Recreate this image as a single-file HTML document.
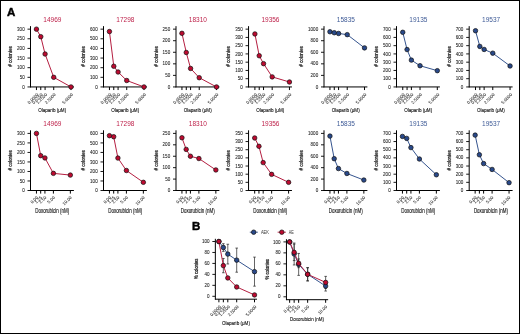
<!DOCTYPE html>
<html><head><meta charset="utf-8"><style>
html,body{margin:0;padding:0;background:#fff;}
body{width:520px;height:334px;overflow:hidden;}
.fr{position:absolute;left:0;top:0;width:518px;height:332px;border:1px solid #000;}
svg{position:absolute;left:0;top:0;will-change:transform;}
text{font-family:"Liberation Sans", sans-serif;}
.t{fill:#222;stroke:#222;stroke-width:0.06px;}
.r{fill:#262626;stroke:#262626;stroke-width:0.04px;}
.h{fill:#151515;stroke:#151515;stroke-width:0.14px;}
.v{fill:#111;stroke:#111;stroke-width:0.22px;}
</style></head><body>
<div class="fr"></div>
<svg width="520" height="334" viewBox="0 0 520 334">
<text x="52.4" y="21.9" font-size="6.5" fill="#bd1f48" text-anchor="middle">14969</text>
<line x1="30.5" y1="26.15" x2="30.5" y2="87.35" stroke="#000" stroke-width="1"/>
<line x1="27.5" y1="86.95" x2="30.5" y2="86.95" stroke="#000" stroke-width="0.9"/>
<text x="24.7" y="88.55" font-size="4.55" class="t" text-anchor="end">0</text>
<line x1="27.5" y1="77.32" x2="30.5" y2="77.32" stroke="#000" stroke-width="0.9"/>
<text x="24.7" y="78.92" font-size="4.55" class="t" text-anchor="end">50</text>
<line x1="27.5" y1="67.68" x2="30.5" y2="67.68" stroke="#000" stroke-width="0.9"/>
<text x="24.7" y="69.28" font-size="4.55" class="t" text-anchor="end">100</text>
<line x1="27.5" y1="58.05" x2="30.5" y2="58.05" stroke="#000" stroke-width="0.9"/>
<text x="24.7" y="59.65" font-size="4.55" class="t" text-anchor="end">150</text>
<line x1="27.5" y1="48.42" x2="30.5" y2="48.42" stroke="#000" stroke-width="0.9"/>
<text x="24.7" y="50.02" font-size="4.55" class="t" text-anchor="end">200</text>
<line x1="27.5" y1="38.78" x2="30.5" y2="38.78" stroke="#000" stroke-width="0.9"/>
<text x="24.7" y="40.38" font-size="4.55" class="t" text-anchor="end">250</text>
<line x1="27.5" y1="29.15" x2="30.5" y2="29.15" stroke="#000" stroke-width="0.9"/>
<text x="24.7" y="30.75" font-size="4.55" class="t" text-anchor="end">300</text>
<line x1="30.1" y1="86.95" x2="73.9" y2="86.95" stroke="#000" stroke-width="1"/>
<line x1="36.45" y1="86.95" x2="36.45" y2="90.05" stroke="#000" stroke-width="1.0"/>
<text transform="translate(38.75,94.85) rotate(-45)" font-size="4.35" class="r" text-anchor="end">0.0000</text>
<line x1="40.77" y1="86.95" x2="40.77" y2="90.05" stroke="#000" stroke-width="1.0"/>
<text transform="translate(43.07,94.85) rotate(-45)" font-size="4.35" class="r" text-anchor="end">0.6250</text>
<line x1="45.09" y1="86.95" x2="45.09" y2="90.05" stroke="#000" stroke-width="1.0"/>
<text transform="translate(47.39,94.85) rotate(-45)" font-size="4.35" class="r" text-anchor="end">1.2500</text>
<line x1="53.73" y1="86.95" x2="53.73" y2="90.05" stroke="#000" stroke-width="1.0"/>
<text transform="translate(56.02,94.85) rotate(-45)" font-size="4.35" class="r" text-anchor="end">2.5000</text>
<line x1="71" y1="86.95" x2="71" y2="90.05" stroke="#000" stroke-width="1.0"/>
<text transform="translate(73.3,94.85) rotate(-45)" font-size="4.35" class="r" text-anchor="end">5.0000</text>
<text transform="translate(12.1,56.55) rotate(-90)" font-size="5.6" class="v" text-anchor="middle" textLength="20.4" lengthAdjust="spacingAndGlyphs"><tspan font-weight="bold">#</tspan>&#160;colonies</text>
<text x="52.2" y="112.45" font-size="5.95" class="h" text-anchor="middle" textLength="28.0" lengthAdjust="spacingAndGlyphs">Olaparib (&#956;M)</text>
<polyline points="36.45,29.15 40.77,36.66 45.09,54 53.73,77.32 71,86.95" fill="none" stroke="#b41e40" stroke-width="1.0"/>
<circle cx="36.45" cy="29.15" r="2.25" fill="#bd0a30" stroke="#111" stroke-width="0.7"/>
<circle cx="40.77" cy="36.66" r="2.25" fill="#bd0a30" stroke="#111" stroke-width="0.7"/>
<circle cx="45.09" cy="54" r="2.25" fill="#bd0a30" stroke="#111" stroke-width="0.7"/>
<circle cx="53.73" cy="77.32" r="2.25" fill="#bd0a30" stroke="#111" stroke-width="0.7"/>
<circle cx="71" cy="86.95" r="2.25" fill="#bd0a30" stroke="#111" stroke-width="0.7"/>
<text x="125.4" y="21.9" font-size="6.5" fill="#bd1f48" text-anchor="middle">17298</text>
<line x1="103.5" y1="26.15" x2="103.5" y2="87.35" stroke="#000" stroke-width="1"/>
<line x1="100.5" y1="86.95" x2="103.5" y2="86.95" stroke="#000" stroke-width="0.9"/>
<text x="97.7" y="88.55" font-size="4.55" class="t" text-anchor="end">0</text>
<line x1="100.5" y1="77.32" x2="103.5" y2="77.32" stroke="#000" stroke-width="0.9"/>
<text x="97.7" y="78.92" font-size="4.55" class="t" text-anchor="end">100</text>
<line x1="100.5" y1="67.68" x2="103.5" y2="67.68" stroke="#000" stroke-width="0.9"/>
<text x="97.7" y="69.28" font-size="4.55" class="t" text-anchor="end">200</text>
<line x1="100.5" y1="58.05" x2="103.5" y2="58.05" stroke="#000" stroke-width="0.9"/>
<text x="97.7" y="59.65" font-size="4.55" class="t" text-anchor="end">300</text>
<line x1="100.5" y1="48.42" x2="103.5" y2="48.42" stroke="#000" stroke-width="0.9"/>
<text x="97.7" y="50.02" font-size="4.55" class="t" text-anchor="end">400</text>
<line x1="100.5" y1="38.78" x2="103.5" y2="38.78" stroke="#000" stroke-width="0.9"/>
<text x="97.7" y="40.38" font-size="4.55" class="t" text-anchor="end">500</text>
<line x1="100.5" y1="29.15" x2="103.5" y2="29.15" stroke="#000" stroke-width="0.9"/>
<text x="97.7" y="30.75" font-size="4.55" class="t" text-anchor="end">600</text>
<line x1="103.1" y1="86.95" x2="146.9" y2="86.95" stroke="#000" stroke-width="1"/>
<line x1="109.45" y1="86.95" x2="109.45" y2="90.05" stroke="#000" stroke-width="1.0"/>
<text transform="translate(111.75,94.85) rotate(-45)" font-size="4.35" class="r" text-anchor="end">0.0000</text>
<line x1="113.77" y1="86.95" x2="113.77" y2="90.05" stroke="#000" stroke-width="1.0"/>
<text transform="translate(116.07,94.85) rotate(-45)" font-size="4.35" class="r" text-anchor="end">0.6250</text>
<line x1="118.09" y1="86.95" x2="118.09" y2="90.05" stroke="#000" stroke-width="1.0"/>
<text transform="translate(120.39,94.85) rotate(-45)" font-size="4.35" class="r" text-anchor="end">1.2500</text>
<line x1="126.72" y1="86.95" x2="126.72" y2="90.05" stroke="#000" stroke-width="1.0"/>
<text transform="translate(129.03,94.85) rotate(-45)" font-size="4.35" class="r" text-anchor="end">2.5000</text>
<line x1="144" y1="86.95" x2="144" y2="90.05" stroke="#000" stroke-width="1.0"/>
<text transform="translate(146.3,94.85) rotate(-45)" font-size="4.35" class="r" text-anchor="end">5.0000</text>
<text transform="translate(85.1,56.55) rotate(-90)" font-size="5.6" class="v" text-anchor="middle" textLength="20.4" lengthAdjust="spacingAndGlyphs"><tspan font-weight="bold">#</tspan>&#160;colonies</text>
<text x="125.2" y="112.45" font-size="5.95" class="h" text-anchor="middle" textLength="28.0" lengthAdjust="spacingAndGlyphs">Olaparib (&#956;M)</text>
<polyline points="109.45,31.56 113.77,66.24 118.09,72.02 126.72,80.5 144,86.95" fill="none" stroke="#b41e40" stroke-width="1.0"/>
<circle cx="109.45" cy="31.56" r="2.25" fill="#bd0a30" stroke="#111" stroke-width="0.7"/>
<circle cx="113.77" cy="66.24" r="2.25" fill="#bd0a30" stroke="#111" stroke-width="0.7"/>
<circle cx="118.09" cy="72.02" r="2.25" fill="#bd0a30" stroke="#111" stroke-width="0.7"/>
<circle cx="126.72" cy="80.5" r="2.25" fill="#bd0a30" stroke="#111" stroke-width="0.7"/>
<circle cx="144" cy="86.95" r="2.25" fill="#bd0a30" stroke="#111" stroke-width="0.7"/>
<text x="197.9" y="21.9" font-size="6.5" fill="#bd1f48" text-anchor="middle">18310</text>
<line x1="176" y1="26.15" x2="176" y2="87.35" stroke="#000" stroke-width="1"/>
<line x1="173" y1="86.95" x2="176" y2="86.95" stroke="#000" stroke-width="0.9"/>
<text x="170.2" y="88.55" font-size="4.55" class="t" text-anchor="end">0</text>
<line x1="173" y1="75.39" x2="176" y2="75.39" stroke="#000" stroke-width="0.9"/>
<text x="170.2" y="76.99" font-size="4.55" class="t" text-anchor="end">50</text>
<line x1="173" y1="63.83" x2="176" y2="63.83" stroke="#000" stroke-width="0.9"/>
<text x="170.2" y="65.43" font-size="4.55" class="t" text-anchor="end">100</text>
<line x1="173" y1="52.27" x2="176" y2="52.27" stroke="#000" stroke-width="0.9"/>
<text x="170.2" y="53.87" font-size="4.55" class="t" text-anchor="end">150</text>
<line x1="173" y1="40.71" x2="176" y2="40.71" stroke="#000" stroke-width="0.9"/>
<text x="170.2" y="42.31" font-size="4.55" class="t" text-anchor="end">200</text>
<line x1="173" y1="29.15" x2="176" y2="29.15" stroke="#000" stroke-width="0.9"/>
<text x="170.2" y="30.75" font-size="4.55" class="t" text-anchor="end">250</text>
<line x1="175.6" y1="86.95" x2="219.4" y2="86.95" stroke="#000" stroke-width="1"/>
<line x1="181.95" y1="86.95" x2="181.95" y2="90.05" stroke="#000" stroke-width="1.0"/>
<text transform="translate(184.25,94.85) rotate(-45)" font-size="4.35" class="r" text-anchor="end">0.0000</text>
<line x1="186.27" y1="86.95" x2="186.27" y2="90.05" stroke="#000" stroke-width="1.0"/>
<text transform="translate(188.57,94.85) rotate(-45)" font-size="4.35" class="r" text-anchor="end">0.6250</text>
<line x1="190.59" y1="86.95" x2="190.59" y2="90.05" stroke="#000" stroke-width="1.0"/>
<text transform="translate(192.89,94.85) rotate(-45)" font-size="4.35" class="r" text-anchor="end">1.2500</text>
<line x1="199.22" y1="86.95" x2="199.22" y2="90.05" stroke="#000" stroke-width="1.0"/>
<text transform="translate(201.53,94.85) rotate(-45)" font-size="4.35" class="r" text-anchor="end">2.5000</text>
<line x1="216.5" y1="86.95" x2="216.5" y2="90.05" stroke="#000" stroke-width="1.0"/>
<text transform="translate(218.8,94.85) rotate(-45)" font-size="4.35" class="r" text-anchor="end">5.0000</text>
<text transform="translate(157.6,56.55) rotate(-90)" font-size="5.6" class="v" text-anchor="middle" textLength="20.4" lengthAdjust="spacingAndGlyphs"><tspan font-weight="bold">#</tspan>&#160;colonies</text>
<text x="197.7" y="112.45" font-size="5.95" class="h" text-anchor="middle" textLength="28.0" lengthAdjust="spacingAndGlyphs">Olaparib (&#956;M)</text>
<polyline points="181.95,33.31 186.27,52.5 190.59,68.45 199.22,77.7 216.5,86.95" fill="none" stroke="#b41e40" stroke-width="1.0"/>
<circle cx="181.95" cy="33.31" r="2.25" fill="#bd0a30" stroke="#111" stroke-width="0.7"/>
<circle cx="186.27" cy="52.5" r="2.25" fill="#bd0a30" stroke="#111" stroke-width="0.7"/>
<circle cx="190.59" cy="68.45" r="2.25" fill="#bd0a30" stroke="#111" stroke-width="0.7"/>
<circle cx="199.22" cy="77.7" r="2.25" fill="#bd0a30" stroke="#111" stroke-width="0.7"/>
<circle cx="216.5" cy="86.95" r="2.25" fill="#bd0a30" stroke="#111" stroke-width="0.7"/>
<text x="270.45" y="21.9" font-size="6.5" fill="#bd1f48" text-anchor="middle">19356</text>
<line x1="248.55" y1="26.15" x2="248.55" y2="87.35" stroke="#000" stroke-width="1"/>
<line x1="245.55" y1="86.95" x2="248.55" y2="86.95" stroke="#000" stroke-width="0.9"/>
<text x="242.75" y="88.55" font-size="4.55" class="t" text-anchor="end">0</text>
<line x1="245.55" y1="78.69" x2="248.55" y2="78.69" stroke="#000" stroke-width="0.9"/>
<text x="242.75" y="80.29" font-size="4.55" class="t" text-anchor="end">50</text>
<line x1="245.55" y1="70.44" x2="248.55" y2="70.44" stroke="#000" stroke-width="0.9"/>
<text x="242.75" y="72.04" font-size="4.55" class="t" text-anchor="end">100</text>
<line x1="245.55" y1="62.18" x2="248.55" y2="62.18" stroke="#000" stroke-width="0.9"/>
<text x="242.75" y="63.78" font-size="4.55" class="t" text-anchor="end">150</text>
<line x1="245.55" y1="53.92" x2="248.55" y2="53.92" stroke="#000" stroke-width="0.9"/>
<text x="242.75" y="55.52" font-size="4.55" class="t" text-anchor="end">200</text>
<line x1="245.55" y1="45.66" x2="248.55" y2="45.66" stroke="#000" stroke-width="0.9"/>
<text x="242.75" y="47.26" font-size="4.55" class="t" text-anchor="end">250</text>
<line x1="245.55" y1="37.41" x2="248.55" y2="37.41" stroke="#000" stroke-width="0.9"/>
<text x="242.75" y="39.01" font-size="4.55" class="t" text-anchor="end">300</text>
<line x1="245.55" y1="29.15" x2="248.55" y2="29.15" stroke="#000" stroke-width="0.9"/>
<text x="242.75" y="30.75" font-size="4.55" class="t" text-anchor="end">350</text>
<line x1="248.15" y1="86.95" x2="291.95" y2="86.95" stroke="#000" stroke-width="1"/>
<line x1="254.9" y1="86.95" x2="254.9" y2="90.05" stroke="#000" stroke-width="1.0"/>
<text transform="translate(257.2,94.85) rotate(-45)" font-size="4.35" class="r" text-anchor="end">0.0000</text>
<line x1="259.22" y1="86.95" x2="259.22" y2="90.05" stroke="#000" stroke-width="1.0"/>
<text transform="translate(261.52,94.85) rotate(-45)" font-size="4.35" class="r" text-anchor="end">0.6250</text>
<line x1="263.54" y1="86.95" x2="263.54" y2="90.05" stroke="#000" stroke-width="1.0"/>
<text transform="translate(265.84,94.85) rotate(-45)" font-size="4.35" class="r" text-anchor="end">1.2500</text>
<line x1="272.18" y1="86.95" x2="272.18" y2="90.05" stroke="#000" stroke-width="1.0"/>
<text transform="translate(274.48,94.85) rotate(-45)" font-size="4.35" class="r" text-anchor="end">2.5000</text>
<line x1="289.45" y1="86.95" x2="289.45" y2="90.05" stroke="#000" stroke-width="1.0"/>
<text transform="translate(291.75,94.85) rotate(-45)" font-size="4.35" class="r" text-anchor="end">5.0000</text>
<text transform="translate(230.15,56.55) rotate(-90)" font-size="5.6" class="v" text-anchor="middle" textLength="20.4" lengthAdjust="spacingAndGlyphs"><tspan font-weight="bold">#</tspan>&#160;colonies</text>
<text x="270.25" y="112.45" font-size="5.95" class="h" text-anchor="middle" textLength="28.0" lengthAdjust="spacingAndGlyphs">Olaparib (&#956;M)</text>
<polyline points="254.9,33.94 259.22,55.74 263.54,63.66 272.18,76.88 289.45,82" fill="none" stroke="#b41e40" stroke-width="1.0"/>
<circle cx="254.9" cy="33.94" r="2.25" fill="#bd0a30" stroke="#111" stroke-width="0.7"/>
<circle cx="259.22" cy="55.74" r="2.25" fill="#bd0a30" stroke="#111" stroke-width="0.7"/>
<circle cx="263.54" cy="63.66" r="2.25" fill="#bd0a30" stroke="#111" stroke-width="0.7"/>
<circle cx="272.18" cy="76.88" r="2.25" fill="#bd0a30" stroke="#111" stroke-width="0.7"/>
<circle cx="289.45" cy="82" r="2.25" fill="#bd0a30" stroke="#111" stroke-width="0.7"/>
<text x="345.9" y="21.9" font-size="6.5" fill="#3e5a96" text-anchor="middle">15835</text>
<line x1="324" y1="26.15" x2="324" y2="87.35" stroke="#000" stroke-width="1"/>
<line x1="321" y1="86.95" x2="324" y2="86.95" stroke="#000" stroke-width="0.9"/>
<text x="318.2" y="88.55" font-size="4.55" class="t" text-anchor="end">0</text>
<line x1="321" y1="75.39" x2="324" y2="75.39" stroke="#000" stroke-width="0.9"/>
<text x="318.2" y="76.99" font-size="4.55" class="t" text-anchor="end">200</text>
<line x1="321" y1="63.83" x2="324" y2="63.83" stroke="#000" stroke-width="0.9"/>
<text x="318.2" y="65.43" font-size="4.55" class="t" text-anchor="end">400</text>
<line x1="321" y1="52.27" x2="324" y2="52.27" stroke="#000" stroke-width="0.9"/>
<text x="318.2" y="53.87" font-size="4.55" class="t" text-anchor="end">600</text>
<line x1="321" y1="40.71" x2="324" y2="40.71" stroke="#000" stroke-width="0.9"/>
<text x="318.2" y="42.31" font-size="4.55" class="t" text-anchor="end">800</text>
<line x1="321" y1="29.15" x2="324" y2="29.15" stroke="#000" stroke-width="0.9"/>
<text x="318.2" y="30.75" font-size="4.55" class="t" text-anchor="end">1000</text>
<line x1="323.6" y1="86.95" x2="367.4" y2="86.95" stroke="#000" stroke-width="1"/>
<line x1="329.95" y1="86.95" x2="329.95" y2="90.05" stroke="#000" stroke-width="1.0"/>
<text transform="translate(332.25,94.85) rotate(-45)" font-size="4.35" class="r" text-anchor="end">0.0000</text>
<line x1="334.27" y1="86.95" x2="334.27" y2="90.05" stroke="#000" stroke-width="1.0"/>
<text transform="translate(336.57,94.85) rotate(-45)" font-size="4.35" class="r" text-anchor="end">0.6250</text>
<line x1="338.59" y1="86.95" x2="338.59" y2="90.05" stroke="#000" stroke-width="1.0"/>
<text transform="translate(340.89,94.85) rotate(-45)" font-size="4.35" class="r" text-anchor="end">1.2500</text>
<line x1="347.22" y1="86.95" x2="347.22" y2="90.05" stroke="#000" stroke-width="1.0"/>
<text transform="translate(349.52,94.85) rotate(-45)" font-size="4.35" class="r" text-anchor="end">2.5000</text>
<line x1="364.5" y1="86.95" x2="364.5" y2="90.05" stroke="#000" stroke-width="1.0"/>
<text transform="translate(366.8,94.85) rotate(-45)" font-size="4.35" class="r" text-anchor="end">5.0000</text>
<text transform="translate(303.2,56.55) rotate(-90)" font-size="5.6" class="v" text-anchor="middle" textLength="20.4" lengthAdjust="spacingAndGlyphs"><tspan font-weight="bold">#</tspan>&#160;colonies</text>
<text x="345.7" y="112.45" font-size="5.95" class="h" text-anchor="middle" textLength="28.0" lengthAdjust="spacingAndGlyphs">Olaparib (&#956;M)</text>
<polyline points="329.95,31.75 334.27,32.73 338.59,33.48 347.22,34.64 364.5,47.88" fill="none" stroke="#35548e" stroke-width="1.0"/>
<circle cx="329.95" cy="31.75" r="2.25" fill="#29498a" stroke="#111" stroke-width="0.7"/>
<circle cx="334.27" cy="32.73" r="2.25" fill="#29498a" stroke="#111" stroke-width="0.7"/>
<circle cx="338.59" cy="33.48" r="2.25" fill="#29498a" stroke="#111" stroke-width="0.7"/>
<circle cx="347.22" cy="34.64" r="2.25" fill="#29498a" stroke="#111" stroke-width="0.7"/>
<circle cx="364.5" cy="47.88" r="2.25" fill="#29498a" stroke="#111" stroke-width="0.7"/>
<text x="418.4" y="21.9" font-size="6.5" fill="#3e5a96" text-anchor="middle">19135</text>
<line x1="396.5" y1="26.15" x2="396.5" y2="87.35" stroke="#000" stroke-width="1"/>
<line x1="393.5" y1="86.95" x2="396.5" y2="86.95" stroke="#000" stroke-width="0.9"/>
<text x="390.7" y="88.55" font-size="4.55" class="t" text-anchor="end">0</text>
<line x1="393.5" y1="78.69" x2="396.5" y2="78.69" stroke="#000" stroke-width="0.9"/>
<text x="390.7" y="80.29" font-size="4.55" class="t" text-anchor="end">100</text>
<line x1="393.5" y1="70.44" x2="396.5" y2="70.44" stroke="#000" stroke-width="0.9"/>
<text x="390.7" y="72.04" font-size="4.55" class="t" text-anchor="end">200</text>
<line x1="393.5" y1="62.18" x2="396.5" y2="62.18" stroke="#000" stroke-width="0.9"/>
<text x="390.7" y="63.78" font-size="4.55" class="t" text-anchor="end">300</text>
<line x1="393.5" y1="53.92" x2="396.5" y2="53.92" stroke="#000" stroke-width="0.9"/>
<text x="390.7" y="55.52" font-size="4.55" class="t" text-anchor="end">400</text>
<line x1="393.5" y1="45.66" x2="396.5" y2="45.66" stroke="#000" stroke-width="0.9"/>
<text x="390.7" y="47.26" font-size="4.55" class="t" text-anchor="end">500</text>
<line x1="393.5" y1="37.41" x2="396.5" y2="37.41" stroke="#000" stroke-width="0.9"/>
<text x="390.7" y="39.01" font-size="4.55" class="t" text-anchor="end">600</text>
<line x1="393.5" y1="29.15" x2="396.5" y2="29.15" stroke="#000" stroke-width="0.9"/>
<text x="390.7" y="30.75" font-size="4.55" class="t" text-anchor="end">700</text>
<line x1="396.1" y1="86.95" x2="439.9" y2="86.95" stroke="#000" stroke-width="1"/>
<line x1="402.75" y1="86.95" x2="402.75" y2="90.05" stroke="#000" stroke-width="1.0"/>
<text transform="translate(405.05,94.85) rotate(-45)" font-size="4.35" class="r" text-anchor="end">0.0000</text>
<line x1="407.07" y1="86.95" x2="407.07" y2="90.05" stroke="#000" stroke-width="1.0"/>
<text transform="translate(409.37,94.85) rotate(-45)" font-size="4.35" class="r" text-anchor="end">0.6250</text>
<line x1="411.39" y1="86.95" x2="411.39" y2="90.05" stroke="#000" stroke-width="1.0"/>
<text transform="translate(413.69,94.85) rotate(-45)" font-size="4.35" class="r" text-anchor="end">1.2500</text>
<line x1="420.02" y1="86.95" x2="420.02" y2="90.05" stroke="#000" stroke-width="1.0"/>
<text transform="translate(422.32,94.85) rotate(-45)" font-size="4.35" class="r" text-anchor="end">2.5000</text>
<line x1="437.3" y1="86.95" x2="437.3" y2="90.05" stroke="#000" stroke-width="1.0"/>
<text transform="translate(439.6,94.85) rotate(-45)" font-size="4.35" class="r" text-anchor="end">5.0000</text>
<text transform="translate(378.1,56.55) rotate(-90)" font-size="5.6" class="v" text-anchor="middle" textLength="20.4" lengthAdjust="spacingAndGlyphs"><tspan font-weight="bold">#</tspan>&#160;colonies</text>
<text x="418.2" y="112.45" font-size="5.95" class="h" text-anchor="middle" textLength="28.0" lengthAdjust="spacingAndGlyphs">Olaparib (&#956;M)</text>
<polyline points="402.75,32.29 407.07,49.55 411.39,60.11 420.02,65.73 437.3,70.68" fill="none" stroke="#35548e" stroke-width="1.0"/>
<circle cx="402.75" cy="32.29" r="2.25" fill="#29498a" stroke="#111" stroke-width="0.7"/>
<circle cx="407.07" cy="49.55" r="2.25" fill="#29498a" stroke="#111" stroke-width="0.7"/>
<circle cx="411.39" cy="60.11" r="2.25" fill="#29498a" stroke="#111" stroke-width="0.7"/>
<circle cx="420.02" cy="65.73" r="2.25" fill="#29498a" stroke="#111" stroke-width="0.7"/>
<circle cx="437.3" cy="70.68" r="2.25" fill="#29498a" stroke="#111" stroke-width="0.7"/>
<text x="491.1" y="21.9" font-size="6.5" fill="#3e5a96" text-anchor="middle">19537</text>
<line x1="469.2" y1="26.15" x2="469.2" y2="87.35" stroke="#000" stroke-width="1"/>
<line x1="466.2" y1="86.95" x2="469.2" y2="86.95" stroke="#000" stroke-width="0.9"/>
<text x="463.4" y="88.55" font-size="4.55" class="t" text-anchor="end">0</text>
<line x1="466.2" y1="78.69" x2="469.2" y2="78.69" stroke="#000" stroke-width="0.9"/>
<text x="463.4" y="80.29" font-size="4.55" class="t" text-anchor="end">100</text>
<line x1="466.2" y1="70.44" x2="469.2" y2="70.44" stroke="#000" stroke-width="0.9"/>
<text x="463.4" y="72.04" font-size="4.55" class="t" text-anchor="end">200</text>
<line x1="466.2" y1="62.18" x2="469.2" y2="62.18" stroke="#000" stroke-width="0.9"/>
<text x="463.4" y="63.78" font-size="4.55" class="t" text-anchor="end">300</text>
<line x1="466.2" y1="53.92" x2="469.2" y2="53.92" stroke="#000" stroke-width="0.9"/>
<text x="463.4" y="55.52" font-size="4.55" class="t" text-anchor="end">400</text>
<line x1="466.2" y1="45.66" x2="469.2" y2="45.66" stroke="#000" stroke-width="0.9"/>
<text x="463.4" y="47.26" font-size="4.55" class="t" text-anchor="end">500</text>
<line x1="466.2" y1="37.41" x2="469.2" y2="37.41" stroke="#000" stroke-width="0.9"/>
<text x="463.4" y="39.01" font-size="4.55" class="t" text-anchor="end">600</text>
<line x1="466.2" y1="29.15" x2="469.2" y2="29.15" stroke="#000" stroke-width="0.9"/>
<text x="463.4" y="30.75" font-size="4.55" class="t" text-anchor="end">700</text>
<line x1="468.8" y1="86.95" x2="512.6" y2="86.95" stroke="#000" stroke-width="1"/>
<line x1="475.5" y1="86.95" x2="475.5" y2="90.05" stroke="#000" stroke-width="1.0"/>
<text transform="translate(477.8,94.85) rotate(-45)" font-size="4.35" class="r" text-anchor="end">0.0000</text>
<line x1="479.82" y1="86.95" x2="479.82" y2="90.05" stroke="#000" stroke-width="1.0"/>
<text transform="translate(482.12,94.85) rotate(-45)" font-size="4.35" class="r" text-anchor="end">0.6250</text>
<line x1="484.14" y1="86.95" x2="484.14" y2="90.05" stroke="#000" stroke-width="1.0"/>
<text transform="translate(486.44,94.85) rotate(-45)" font-size="4.35" class="r" text-anchor="end">1.2500</text>
<line x1="492.77" y1="86.95" x2="492.77" y2="90.05" stroke="#000" stroke-width="1.0"/>
<text transform="translate(495.07,94.85) rotate(-45)" font-size="4.35" class="r" text-anchor="end">2.5000</text>
<line x1="510.05" y1="86.95" x2="510.05" y2="90.05" stroke="#000" stroke-width="1.0"/>
<text transform="translate(512.35,94.85) rotate(-45)" font-size="4.35" class="r" text-anchor="end">5.0000</text>
<text transform="translate(450.8,56.55) rotate(-90)" font-size="5.6" class="v" text-anchor="middle" textLength="20.4" lengthAdjust="spacingAndGlyphs"><tspan font-weight="bold">#</tspan>&#160;colonies</text>
<text x="490.9" y="112.45" font-size="5.95" class="h" text-anchor="middle" textLength="28.0" lengthAdjust="spacingAndGlyphs">Olaparib (&#956;M)</text>
<polyline points="475.5,30.72 479.82,46.41 484.14,49.46 492.77,53.18 510.05,65.98" fill="none" stroke="#35548e" stroke-width="1.0"/>
<circle cx="475.5" cy="30.72" r="2.25" fill="#29498a" stroke="#111" stroke-width="0.7"/>
<circle cx="479.82" cy="46.41" r="2.25" fill="#29498a" stroke="#111" stroke-width="0.7"/>
<circle cx="484.14" cy="49.46" r="2.25" fill="#29498a" stroke="#111" stroke-width="0.7"/>
<circle cx="492.77" cy="53.18" r="2.25" fill="#29498a" stroke="#111" stroke-width="0.7"/>
<circle cx="510.05" cy="65.98" r="2.25" fill="#29498a" stroke="#111" stroke-width="0.7"/>
<text x="52.4" y="125.9" font-size="6.5" fill="#bd1f48" text-anchor="middle">14969</text>
<line x1="30.5" y1="130.3" x2="30.5" y2="190.9" stroke="#000" stroke-width="1"/>
<line x1="27.5" y1="190.5" x2="30.5" y2="190.5" stroke="#000" stroke-width="0.9"/>
<text x="24.7" y="192.1" font-size="4.55" class="t" text-anchor="end">0</text>
<line x1="27.5" y1="180.98" x2="30.5" y2="180.98" stroke="#000" stroke-width="0.9"/>
<text x="24.7" y="182.58" font-size="4.55" class="t" text-anchor="end">50</text>
<line x1="27.5" y1="171.47" x2="30.5" y2="171.47" stroke="#000" stroke-width="0.9"/>
<text x="24.7" y="173.07" font-size="4.55" class="t" text-anchor="end">100</text>
<line x1="27.5" y1="161.95" x2="30.5" y2="161.95" stroke="#000" stroke-width="0.9"/>
<text x="24.7" y="163.55" font-size="4.55" class="t" text-anchor="end">150</text>
<line x1="27.5" y1="152.43" x2="30.5" y2="152.43" stroke="#000" stroke-width="0.9"/>
<text x="24.7" y="154.03" font-size="4.55" class="t" text-anchor="end">200</text>
<line x1="27.5" y1="142.92" x2="30.5" y2="142.92" stroke="#000" stroke-width="0.9"/>
<text x="24.7" y="144.52" font-size="4.55" class="t" text-anchor="end">250</text>
<line x1="27.5" y1="133.4" x2="30.5" y2="133.4" stroke="#000" stroke-width="0.9"/>
<text x="24.7" y="135" font-size="4.55" class="t" text-anchor="end">300</text>
<line x1="30.1" y1="190.5" x2="73.9" y2="190.5" stroke="#000" stroke-width="1"/>
<line x1="36.45" y1="190.5" x2="36.45" y2="193.6" stroke="#000" stroke-width="1.0"/>
<text transform="translate(38.15,197.8) rotate(-45)" font-size="4.35" class="r" text-anchor="end">0.00</text>
<line x1="40.69" y1="190.5" x2="40.69" y2="193.6" stroke="#000" stroke-width="1.0"/>
<text transform="translate(42.39,197.8) rotate(-45)" font-size="4.35" class="r" text-anchor="end">1.25</text>
<line x1="44.93" y1="190.5" x2="44.93" y2="193.6" stroke="#000" stroke-width="1.0"/>
<text transform="translate(46.63,197.8) rotate(-45)" font-size="4.35" class="r" text-anchor="end">2.50</text>
<line x1="53.4" y1="190.5" x2="53.4" y2="193.6" stroke="#000" stroke-width="1.0"/>
<text transform="translate(55.1,197.8) rotate(-45)" font-size="4.35" class="r" text-anchor="end">5.00</text>
<line x1="70.35" y1="190.5" x2="70.35" y2="193.6" stroke="#000" stroke-width="1.0"/>
<text transform="translate(72.05,197.8) rotate(-45)" font-size="4.35" class="r" text-anchor="end">10.00</text>
<text transform="translate(12.1,160.4) rotate(-90)" font-size="5.6" class="v" text-anchor="middle" textLength="20.4" lengthAdjust="spacingAndGlyphs"><tspan font-weight="bold">#</tspan>&#160;colonies</text>
<text x="52.2" y="212.6" font-size="6.35" class="h" text-anchor="middle" textLength="34.0" lengthAdjust="spacingAndGlyphs">Doxorubicin (nM)</text>
<polyline points="36.45,133.4 40.69,155.67 44.93,157.95 53.4,173.37 70.35,175.08" fill="none" stroke="#b41e40" stroke-width="1.0"/>
<circle cx="36.45" cy="133.4" r="2.25" fill="#bd0a30" stroke="#111" stroke-width="0.7"/>
<circle cx="40.69" cy="155.67" r="2.25" fill="#bd0a30" stroke="#111" stroke-width="0.7"/>
<circle cx="44.93" cy="157.95" r="2.25" fill="#bd0a30" stroke="#111" stroke-width="0.7"/>
<circle cx="53.4" cy="173.37" r="2.25" fill="#bd0a30" stroke="#111" stroke-width="0.7"/>
<circle cx="70.35" cy="175.08" r="2.25" fill="#bd0a30" stroke="#111" stroke-width="0.7"/>
<text x="125.4" y="125.9" font-size="6.5" fill="#bd1f48" text-anchor="middle">17298</text>
<line x1="103.5" y1="130.3" x2="103.5" y2="190.9" stroke="#000" stroke-width="1"/>
<line x1="100.5" y1="190.5" x2="103.5" y2="190.5" stroke="#000" stroke-width="0.9"/>
<text x="97.7" y="192.1" font-size="4.55" class="t" text-anchor="end">0</text>
<line x1="100.5" y1="180.98" x2="103.5" y2="180.98" stroke="#000" stroke-width="0.9"/>
<text x="97.7" y="182.58" font-size="4.55" class="t" text-anchor="end">100</text>
<line x1="100.5" y1="171.47" x2="103.5" y2="171.47" stroke="#000" stroke-width="0.9"/>
<text x="97.7" y="173.07" font-size="4.55" class="t" text-anchor="end">200</text>
<line x1="100.5" y1="161.95" x2="103.5" y2="161.95" stroke="#000" stroke-width="0.9"/>
<text x="97.7" y="163.55" font-size="4.55" class="t" text-anchor="end">300</text>
<line x1="100.5" y1="152.43" x2="103.5" y2="152.43" stroke="#000" stroke-width="0.9"/>
<text x="97.7" y="154.03" font-size="4.55" class="t" text-anchor="end">400</text>
<line x1="100.5" y1="142.92" x2="103.5" y2="142.92" stroke="#000" stroke-width="0.9"/>
<text x="97.7" y="144.52" font-size="4.55" class="t" text-anchor="end">500</text>
<line x1="100.5" y1="133.4" x2="103.5" y2="133.4" stroke="#000" stroke-width="0.9"/>
<text x="97.7" y="135" font-size="4.55" class="t" text-anchor="end">600</text>
<line x1="103.1" y1="190.5" x2="146.9" y2="190.5" stroke="#000" stroke-width="1"/>
<line x1="109.45" y1="190.5" x2="109.45" y2="193.6" stroke="#000" stroke-width="1.0"/>
<text transform="translate(111.15,197.8) rotate(-45)" font-size="4.35" class="r" text-anchor="end">0.00</text>
<line x1="113.69" y1="190.5" x2="113.69" y2="193.6" stroke="#000" stroke-width="1.0"/>
<text transform="translate(115.39,197.8) rotate(-45)" font-size="4.35" class="r" text-anchor="end">1.25</text>
<line x1="117.92" y1="190.5" x2="117.92" y2="193.6" stroke="#000" stroke-width="1.0"/>
<text transform="translate(119.62,197.8) rotate(-45)" font-size="4.35" class="r" text-anchor="end">2.50</text>
<line x1="126.4" y1="190.5" x2="126.4" y2="193.6" stroke="#000" stroke-width="1.0"/>
<text transform="translate(128.1,197.8) rotate(-45)" font-size="4.35" class="r" text-anchor="end">5.00</text>
<line x1="143.35" y1="190.5" x2="143.35" y2="193.6" stroke="#000" stroke-width="1.0"/>
<text transform="translate(145.05,197.8) rotate(-45)" font-size="4.35" class="r" text-anchor="end">10.00</text>
<text transform="translate(85.1,160.4) rotate(-90)" font-size="5.6" class="v" text-anchor="middle" textLength="20.4" lengthAdjust="spacingAndGlyphs"><tspan font-weight="bold">#</tspan>&#160;colonies</text>
<text x="125.2" y="212.6" font-size="6.35" class="h" text-anchor="middle" textLength="34.0" lengthAdjust="spacingAndGlyphs">Doxorubicin (nM)</text>
<polyline points="109.45,135.68 113.69,136.73 117.92,158.05 126.4,170.51 143.35,182.32" fill="none" stroke="#b41e40" stroke-width="1.0"/>
<circle cx="109.45" cy="135.68" r="2.25" fill="#bd0a30" stroke="#111" stroke-width="0.7"/>
<circle cx="113.69" cy="136.73" r="2.25" fill="#bd0a30" stroke="#111" stroke-width="0.7"/>
<circle cx="117.92" cy="158.05" r="2.25" fill="#bd0a30" stroke="#111" stroke-width="0.7"/>
<circle cx="126.4" cy="170.51" r="2.25" fill="#bd0a30" stroke="#111" stroke-width="0.7"/>
<circle cx="143.35" cy="182.32" r="2.25" fill="#bd0a30" stroke="#111" stroke-width="0.7"/>
<text x="197.9" y="125.9" font-size="6.5" fill="#bd1f48" text-anchor="middle">18310</text>
<line x1="176" y1="130.3" x2="176" y2="190.9" stroke="#000" stroke-width="1"/>
<line x1="173" y1="190.5" x2="176" y2="190.5" stroke="#000" stroke-width="0.9"/>
<text x="170.2" y="192.1" font-size="4.55" class="t" text-anchor="end">0</text>
<line x1="173" y1="179.08" x2="176" y2="179.08" stroke="#000" stroke-width="0.9"/>
<text x="170.2" y="180.68" font-size="4.55" class="t" text-anchor="end">50</text>
<line x1="173" y1="167.66" x2="176" y2="167.66" stroke="#000" stroke-width="0.9"/>
<text x="170.2" y="169.26" font-size="4.55" class="t" text-anchor="end">100</text>
<line x1="173" y1="156.24" x2="176" y2="156.24" stroke="#000" stroke-width="0.9"/>
<text x="170.2" y="157.84" font-size="4.55" class="t" text-anchor="end">150</text>
<line x1="173" y1="144.82" x2="176" y2="144.82" stroke="#000" stroke-width="0.9"/>
<text x="170.2" y="146.42" font-size="4.55" class="t" text-anchor="end">200</text>
<line x1="173" y1="133.4" x2="176" y2="133.4" stroke="#000" stroke-width="0.9"/>
<text x="170.2" y="135" font-size="4.55" class="t" text-anchor="end">250</text>
<line x1="175.6" y1="190.5" x2="219.4" y2="190.5" stroke="#000" stroke-width="1"/>
<line x1="181.95" y1="190.5" x2="181.95" y2="193.6" stroke="#000" stroke-width="1.0"/>
<text transform="translate(183.65,197.8) rotate(-45)" font-size="4.35" class="r" text-anchor="end">0.00</text>
<line x1="186.19" y1="190.5" x2="186.19" y2="193.6" stroke="#000" stroke-width="1.0"/>
<text transform="translate(187.89,197.8) rotate(-45)" font-size="4.35" class="r" text-anchor="end">1.25</text>
<line x1="190.42" y1="190.5" x2="190.42" y2="193.6" stroke="#000" stroke-width="1.0"/>
<text transform="translate(192.12,197.8) rotate(-45)" font-size="4.35" class="r" text-anchor="end">2.50</text>
<line x1="198.9" y1="190.5" x2="198.9" y2="193.6" stroke="#000" stroke-width="1.0"/>
<text transform="translate(200.6,197.8) rotate(-45)" font-size="4.35" class="r" text-anchor="end">5.00</text>
<line x1="215.85" y1="190.5" x2="215.85" y2="193.6" stroke="#000" stroke-width="1.0"/>
<text transform="translate(217.55,197.8) rotate(-45)" font-size="4.35" class="r" text-anchor="end">10.00</text>
<text transform="translate(157.6,160.4) rotate(-90)" font-size="5.6" class="v" text-anchor="middle" textLength="20.4" lengthAdjust="spacingAndGlyphs"><tspan font-weight="bold">#</tspan>&#160;colonies</text>
<text x="197.7" y="212.6" font-size="6.35" class="h" text-anchor="middle" textLength="34.0" lengthAdjust="spacingAndGlyphs">Doxorubicin (nM)</text>
<polyline points="181.95,137.74 186.19,149.39 190.42,156.24 198.9,158.52 215.85,169.94" fill="none" stroke="#b41e40" stroke-width="1.0"/>
<circle cx="181.95" cy="137.74" r="2.25" fill="#bd0a30" stroke="#111" stroke-width="0.7"/>
<circle cx="186.19" cy="149.39" r="2.25" fill="#bd0a30" stroke="#111" stroke-width="0.7"/>
<circle cx="190.42" cy="156.24" r="2.25" fill="#bd0a30" stroke="#111" stroke-width="0.7"/>
<circle cx="198.9" cy="158.52" r="2.25" fill="#bd0a30" stroke="#111" stroke-width="0.7"/>
<circle cx="215.85" cy="169.94" r="2.25" fill="#bd0a30" stroke="#111" stroke-width="0.7"/>
<text x="270.45" y="125.9" font-size="6.5" fill="#bd1f48" text-anchor="middle">19356</text>
<line x1="248.55" y1="130.3" x2="248.55" y2="190.9" stroke="#000" stroke-width="1"/>
<line x1="245.55" y1="190.5" x2="248.55" y2="190.5" stroke="#000" stroke-width="0.9"/>
<text x="242.75" y="192.1" font-size="4.55" class="t" text-anchor="end">0</text>
<line x1="245.55" y1="182.34" x2="248.55" y2="182.34" stroke="#000" stroke-width="0.9"/>
<text x="242.75" y="183.94" font-size="4.55" class="t" text-anchor="end">50</text>
<line x1="245.55" y1="174.19" x2="248.55" y2="174.19" stroke="#000" stroke-width="0.9"/>
<text x="242.75" y="175.79" font-size="4.55" class="t" text-anchor="end">100</text>
<line x1="245.55" y1="166.03" x2="248.55" y2="166.03" stroke="#000" stroke-width="0.9"/>
<text x="242.75" y="167.63" font-size="4.55" class="t" text-anchor="end">150</text>
<line x1="245.55" y1="157.87" x2="248.55" y2="157.87" stroke="#000" stroke-width="0.9"/>
<text x="242.75" y="159.47" font-size="4.55" class="t" text-anchor="end">200</text>
<line x1="245.55" y1="149.71" x2="248.55" y2="149.71" stroke="#000" stroke-width="0.9"/>
<text x="242.75" y="151.31" font-size="4.55" class="t" text-anchor="end">250</text>
<line x1="245.55" y1="141.56" x2="248.55" y2="141.56" stroke="#000" stroke-width="0.9"/>
<text x="242.75" y="143.16" font-size="4.55" class="t" text-anchor="end">300</text>
<line x1="245.55" y1="133.4" x2="248.55" y2="133.4" stroke="#000" stroke-width="0.9"/>
<text x="242.75" y="135" font-size="4.55" class="t" text-anchor="end">350</text>
<line x1="248.15" y1="190.5" x2="291.95" y2="190.5" stroke="#000" stroke-width="1"/>
<line x1="254.7" y1="190.5" x2="254.7" y2="193.6" stroke="#000" stroke-width="1.0"/>
<text transform="translate(256.4,197.8) rotate(-45)" font-size="4.35" class="r" text-anchor="end">0.00</text>
<line x1="258.94" y1="190.5" x2="258.94" y2="193.6" stroke="#000" stroke-width="1.0"/>
<text transform="translate(260.64,197.8) rotate(-45)" font-size="4.35" class="r" text-anchor="end">1.25</text>
<line x1="263.18" y1="190.5" x2="263.18" y2="193.6" stroke="#000" stroke-width="1.0"/>
<text transform="translate(264.88,197.8) rotate(-45)" font-size="4.35" class="r" text-anchor="end">2.50</text>
<line x1="271.65" y1="190.5" x2="271.65" y2="193.6" stroke="#000" stroke-width="1.0"/>
<text transform="translate(273.35,197.8) rotate(-45)" font-size="4.35" class="r" text-anchor="end">5.00</text>
<line x1="288.6" y1="190.5" x2="288.6" y2="193.6" stroke="#000" stroke-width="1.0"/>
<text transform="translate(290.3,197.8) rotate(-45)" font-size="4.35" class="r" text-anchor="end">10.00</text>
<text transform="translate(230.15,160.4) rotate(-90)" font-size="5.6" class="v" text-anchor="middle" textLength="20.4" lengthAdjust="spacingAndGlyphs"><tspan font-weight="bold">#</tspan>&#160;colonies</text>
<text x="270.25" y="212.6" font-size="6.35" class="h" text-anchor="middle" textLength="34.0" lengthAdjust="spacingAndGlyphs">Doxorubicin (nM)</text>
<polyline points="254.7,137.97 258.94,146.29 263.18,162.6 271.65,174.35 288.6,182.34" fill="none" stroke="#b41e40" stroke-width="1.0"/>
<circle cx="254.7" cy="137.97" r="2.25" fill="#bd0a30" stroke="#111" stroke-width="0.7"/>
<circle cx="258.94" cy="146.29" r="2.25" fill="#bd0a30" stroke="#111" stroke-width="0.7"/>
<circle cx="263.18" cy="162.6" r="2.25" fill="#bd0a30" stroke="#111" stroke-width="0.7"/>
<circle cx="271.65" cy="174.35" r="2.25" fill="#bd0a30" stroke="#111" stroke-width="0.7"/>
<circle cx="288.6" cy="182.34" r="2.25" fill="#bd0a30" stroke="#111" stroke-width="0.7"/>
<text x="345.9" y="125.9" font-size="6.5" fill="#3e5a96" text-anchor="middle">15835</text>
<line x1="324" y1="130.3" x2="324" y2="190.9" stroke="#000" stroke-width="1"/>
<line x1="321" y1="190.5" x2="324" y2="190.5" stroke="#000" stroke-width="0.9"/>
<text x="318.2" y="192.1" font-size="4.55" class="t" text-anchor="end">0</text>
<line x1="321" y1="179.08" x2="324" y2="179.08" stroke="#000" stroke-width="0.9"/>
<text x="318.2" y="180.68" font-size="4.55" class="t" text-anchor="end">200</text>
<line x1="321" y1="167.66" x2="324" y2="167.66" stroke="#000" stroke-width="0.9"/>
<text x="318.2" y="169.26" font-size="4.55" class="t" text-anchor="end">400</text>
<line x1="321" y1="156.24" x2="324" y2="156.24" stroke="#000" stroke-width="0.9"/>
<text x="318.2" y="157.84" font-size="4.55" class="t" text-anchor="end">600</text>
<line x1="321" y1="144.82" x2="324" y2="144.82" stroke="#000" stroke-width="0.9"/>
<text x="318.2" y="146.42" font-size="4.55" class="t" text-anchor="end">800</text>
<line x1="321" y1="133.4" x2="324" y2="133.4" stroke="#000" stroke-width="0.9"/>
<text x="318.2" y="135" font-size="4.55" class="t" text-anchor="end">1000</text>
<line x1="323.6" y1="190.5" x2="367.4" y2="190.5" stroke="#000" stroke-width="1"/>
<line x1="329.95" y1="190.5" x2="329.95" y2="193.6" stroke="#000" stroke-width="1.0"/>
<text transform="translate(331.65,197.8) rotate(-45)" font-size="4.35" class="r" text-anchor="end">0.00</text>
<line x1="334.19" y1="190.5" x2="334.19" y2="193.6" stroke="#000" stroke-width="1.0"/>
<text transform="translate(335.89,197.8) rotate(-45)" font-size="4.35" class="r" text-anchor="end">1.25</text>
<line x1="338.43" y1="190.5" x2="338.43" y2="193.6" stroke="#000" stroke-width="1.0"/>
<text transform="translate(340.12,197.8) rotate(-45)" font-size="4.35" class="r" text-anchor="end">2.50</text>
<line x1="346.9" y1="190.5" x2="346.9" y2="193.6" stroke="#000" stroke-width="1.0"/>
<text transform="translate(348.6,197.8) rotate(-45)" font-size="4.35" class="r" text-anchor="end">5.00</text>
<line x1="363.85" y1="190.5" x2="363.85" y2="193.6" stroke="#000" stroke-width="1.0"/>
<text transform="translate(365.55,197.8) rotate(-45)" font-size="4.35" class="r" text-anchor="end">10.00</text>
<text transform="translate(303.2,160.4) rotate(-90)" font-size="5.6" class="v" text-anchor="middle" textLength="20.4" lengthAdjust="spacingAndGlyphs"><tspan font-weight="bold">#</tspan>&#160;colonies</text>
<text x="345.7" y="212.6" font-size="6.35" class="h" text-anchor="middle" textLength="34.0" lengthAdjust="spacingAndGlyphs">Doxorubicin (nM)</text>
<polyline points="329.95,136.08 334.19,158.7 338.43,168.57 346.9,173.48 363.85,180.05" fill="none" stroke="#35548e" stroke-width="1.0"/>
<circle cx="329.95" cy="136.08" r="2.25" fill="#29498a" stroke="#111" stroke-width="0.7"/>
<circle cx="334.19" cy="158.7" r="2.25" fill="#29498a" stroke="#111" stroke-width="0.7"/>
<circle cx="338.43" cy="168.57" r="2.25" fill="#29498a" stroke="#111" stroke-width="0.7"/>
<circle cx="346.9" cy="173.48" r="2.25" fill="#29498a" stroke="#111" stroke-width="0.7"/>
<circle cx="363.85" cy="180.05" r="2.25" fill="#29498a" stroke="#111" stroke-width="0.7"/>
<text x="418.4" y="125.9" font-size="6.5" fill="#3e5a96" text-anchor="middle">19135</text>
<line x1="396.5" y1="130.3" x2="396.5" y2="190.9" stroke="#000" stroke-width="1"/>
<line x1="393.5" y1="190.5" x2="396.5" y2="190.5" stroke="#000" stroke-width="0.9"/>
<text x="390.7" y="192.1" font-size="4.55" class="t" text-anchor="end">0</text>
<line x1="393.5" y1="182.34" x2="396.5" y2="182.34" stroke="#000" stroke-width="0.9"/>
<text x="390.7" y="183.94" font-size="4.55" class="t" text-anchor="end">100</text>
<line x1="393.5" y1="174.19" x2="396.5" y2="174.19" stroke="#000" stroke-width="0.9"/>
<text x="390.7" y="175.79" font-size="4.55" class="t" text-anchor="end">200</text>
<line x1="393.5" y1="166.03" x2="396.5" y2="166.03" stroke="#000" stroke-width="0.9"/>
<text x="390.7" y="167.63" font-size="4.55" class="t" text-anchor="end">300</text>
<line x1="393.5" y1="157.87" x2="396.5" y2="157.87" stroke="#000" stroke-width="0.9"/>
<text x="390.7" y="159.47" font-size="4.55" class="t" text-anchor="end">400</text>
<line x1="393.5" y1="149.71" x2="396.5" y2="149.71" stroke="#000" stroke-width="0.9"/>
<text x="390.7" y="151.31" font-size="4.55" class="t" text-anchor="end">500</text>
<line x1="393.5" y1="141.56" x2="396.5" y2="141.56" stroke="#000" stroke-width="0.9"/>
<text x="390.7" y="143.16" font-size="4.55" class="t" text-anchor="end">600</text>
<line x1="393.5" y1="133.4" x2="396.5" y2="133.4" stroke="#000" stroke-width="0.9"/>
<text x="390.7" y="135" font-size="4.55" class="t" text-anchor="end">700</text>
<line x1="396.1" y1="190.5" x2="439.9" y2="190.5" stroke="#000" stroke-width="1"/>
<line x1="402.45" y1="190.5" x2="402.45" y2="193.6" stroke="#000" stroke-width="1.0"/>
<text transform="translate(404.15,197.8) rotate(-45)" font-size="4.35" class="r" text-anchor="end">0.00</text>
<line x1="406.69" y1="190.5" x2="406.69" y2="193.6" stroke="#000" stroke-width="1.0"/>
<text transform="translate(408.39,197.8) rotate(-45)" font-size="4.35" class="r" text-anchor="end">1.25</text>
<line x1="410.93" y1="190.5" x2="410.93" y2="193.6" stroke="#000" stroke-width="1.0"/>
<text transform="translate(412.62,197.8) rotate(-45)" font-size="4.35" class="r" text-anchor="end">2.50</text>
<line x1="419.4" y1="190.5" x2="419.4" y2="193.6" stroke="#000" stroke-width="1.0"/>
<text transform="translate(421.1,197.8) rotate(-45)" font-size="4.35" class="r" text-anchor="end">5.00</text>
<line x1="436.35" y1="190.5" x2="436.35" y2="193.6" stroke="#000" stroke-width="1.0"/>
<text transform="translate(438.05,197.8) rotate(-45)" font-size="4.35" class="r" text-anchor="end">10.00</text>
<text transform="translate(378.1,160.4) rotate(-90)" font-size="5.6" class="v" text-anchor="middle" textLength="20.4" lengthAdjust="spacingAndGlyphs"><tspan font-weight="bold">#</tspan>&#160;colonies</text>
<text x="418.2" y="212.6" font-size="6.35" class="h" text-anchor="middle" textLength="34.0" lengthAdjust="spacingAndGlyphs">Doxorubicin (nM)</text>
<polyline points="402.45,136.42 406.69,138.38 410.93,147.59 419.4,159.01 436.35,174.76" fill="none" stroke="#35548e" stroke-width="1.0"/>
<circle cx="402.45" cy="136.42" r="2.25" fill="#29498a" stroke="#111" stroke-width="0.7"/>
<circle cx="406.69" cy="138.38" r="2.25" fill="#29498a" stroke="#111" stroke-width="0.7"/>
<circle cx="410.93" cy="147.59" r="2.25" fill="#29498a" stroke="#111" stroke-width="0.7"/>
<circle cx="419.4" cy="159.01" r="2.25" fill="#29498a" stroke="#111" stroke-width="0.7"/>
<circle cx="436.35" cy="174.76" r="2.25" fill="#29498a" stroke="#111" stroke-width="0.7"/>
<text x="491.1" y="125.9" font-size="6.5" fill="#3e5a96" text-anchor="middle">19537</text>
<line x1="469.2" y1="130.3" x2="469.2" y2="190.9" stroke="#000" stroke-width="1"/>
<line x1="466.2" y1="190.5" x2="469.2" y2="190.5" stroke="#000" stroke-width="0.9"/>
<text x="463.4" y="192.1" font-size="4.55" class="t" text-anchor="end">0</text>
<line x1="466.2" y1="182.34" x2="469.2" y2="182.34" stroke="#000" stroke-width="0.9"/>
<text x="463.4" y="183.94" font-size="4.55" class="t" text-anchor="end">100</text>
<line x1="466.2" y1="174.19" x2="469.2" y2="174.19" stroke="#000" stroke-width="0.9"/>
<text x="463.4" y="175.79" font-size="4.55" class="t" text-anchor="end">200</text>
<line x1="466.2" y1="166.03" x2="469.2" y2="166.03" stroke="#000" stroke-width="0.9"/>
<text x="463.4" y="167.63" font-size="4.55" class="t" text-anchor="end">300</text>
<line x1="466.2" y1="157.87" x2="469.2" y2="157.87" stroke="#000" stroke-width="0.9"/>
<text x="463.4" y="159.47" font-size="4.55" class="t" text-anchor="end">400</text>
<line x1="466.2" y1="149.71" x2="469.2" y2="149.71" stroke="#000" stroke-width="0.9"/>
<text x="463.4" y="151.31" font-size="4.55" class="t" text-anchor="end">500</text>
<line x1="466.2" y1="141.56" x2="469.2" y2="141.56" stroke="#000" stroke-width="0.9"/>
<text x="463.4" y="143.16" font-size="4.55" class="t" text-anchor="end">600</text>
<line x1="466.2" y1="133.4" x2="469.2" y2="133.4" stroke="#000" stroke-width="0.9"/>
<text x="463.4" y="135" font-size="4.55" class="t" text-anchor="end">700</text>
<line x1="468.8" y1="190.5" x2="512.6" y2="190.5" stroke="#000" stroke-width="1"/>
<line x1="475.15" y1="190.5" x2="475.15" y2="193.6" stroke="#000" stroke-width="1.0"/>
<text transform="translate(476.85,197.8) rotate(-45)" font-size="4.35" class="r" text-anchor="end">0.00</text>
<line x1="479.39" y1="190.5" x2="479.39" y2="193.6" stroke="#000" stroke-width="1.0"/>
<text transform="translate(481.09,197.8) rotate(-45)" font-size="4.35" class="r" text-anchor="end">1.25</text>
<line x1="483.62" y1="190.5" x2="483.62" y2="193.6" stroke="#000" stroke-width="1.0"/>
<text transform="translate(485.32,197.8) rotate(-45)" font-size="4.35" class="r" text-anchor="end">2.50</text>
<line x1="492.1" y1="190.5" x2="492.1" y2="193.6" stroke="#000" stroke-width="1.0"/>
<text transform="translate(493.8,197.8) rotate(-45)" font-size="4.35" class="r" text-anchor="end">5.00</text>
<line x1="509.05" y1="190.5" x2="509.05" y2="193.6" stroke="#000" stroke-width="1.0"/>
<text transform="translate(510.75,197.8) rotate(-45)" font-size="4.35" class="r" text-anchor="end">10.00</text>
<text transform="translate(450.8,160.4) rotate(-90)" font-size="5.6" class="v" text-anchor="middle" textLength="20.4" lengthAdjust="spacingAndGlyphs"><tspan font-weight="bold">#</tspan>&#160;colonies</text>
<text x="490.9" y="212.6" font-size="6.35" class="h" text-anchor="middle" textLength="34.0" lengthAdjust="spacingAndGlyphs">Doxorubicin (nM)</text>
<polyline points="475.15,135.11 479.39,154.77 483.62,163.58 492.1,169.45 509.05,182.67" fill="none" stroke="#35548e" stroke-width="1.0"/>
<circle cx="475.15" cy="135.11" r="2.25" fill="#29498a" stroke="#111" stroke-width="0.7"/>
<circle cx="479.39" cy="154.77" r="2.25" fill="#29498a" stroke="#111" stroke-width="0.7"/>
<circle cx="483.62" cy="163.58" r="2.25" fill="#29498a" stroke="#111" stroke-width="0.7"/>
<circle cx="492.1" cy="169.45" r="2.25" fill="#29498a" stroke="#111" stroke-width="0.7"/>
<circle cx="509.05" cy="182.67" r="2.25" fill="#29498a" stroke="#111" stroke-width="0.7"/>
<line x1="215.35" y1="238.8" x2="215.35" y2="299.6" stroke="#000" stroke-width="1"/>
<line x1="212.35" y1="296.3" x2="215.35" y2="296.3" stroke="#000" stroke-width="0.9"/>
<text x="209.55" y="297.9" font-size="4.55" class="t" text-anchor="end">0</text>
<line x1="212.35" y1="285.34" x2="215.35" y2="285.34" stroke="#000" stroke-width="0.9"/>
<text x="209.55" y="286.94" font-size="4.55" class="t" text-anchor="end">20</text>
<line x1="212.35" y1="274.38" x2="215.35" y2="274.38" stroke="#000" stroke-width="0.9"/>
<text x="209.55" y="275.98" font-size="4.55" class="t" text-anchor="end">40</text>
<line x1="212.35" y1="263.42" x2="215.35" y2="263.42" stroke="#000" stroke-width="0.9"/>
<text x="209.55" y="265.02" font-size="4.55" class="t" text-anchor="end">60</text>
<line x1="212.35" y1="252.46" x2="215.35" y2="252.46" stroke="#000" stroke-width="0.9"/>
<text x="209.55" y="254.06" font-size="4.55" class="t" text-anchor="end">80</text>
<line x1="212.35" y1="241.5" x2="215.35" y2="241.5" stroke="#000" stroke-width="0.9"/>
<text x="209.55" y="243.1" font-size="4.55" class="t" text-anchor="end">100</text>
<line x1="214.95" y1="299.2" x2="257" y2="299.2" stroke="#000" stroke-width="1"/>
<line x1="218.9" y1="299.2" x2="218.9" y2="302.3" stroke="#000" stroke-width="1.0"/>
<text transform="translate(221.2,307.1) rotate(-45)" font-size="4.35" class="r" text-anchor="end">0.0000</text>
<line x1="223.35" y1="299.2" x2="223.35" y2="302.3" stroke="#000" stroke-width="1.0"/>
<text transform="translate(225.65,307.1) rotate(-45)" font-size="4.35" class="r" text-anchor="end">0.6250</text>
<line x1="227.8" y1="299.2" x2="227.8" y2="302.3" stroke="#000" stroke-width="1.0"/>
<text transform="translate(230.1,307.1) rotate(-45)" font-size="4.35" class="r" text-anchor="end">1.2500</text>
<line x1="236.7" y1="299.2" x2="236.7" y2="302.3" stroke="#000" stroke-width="1.0"/>
<text transform="translate(239,307.1) rotate(-45)" font-size="4.35" class="r" text-anchor="end">2.5000</text>
<line x1="254.5" y1="299.2" x2="254.5" y2="302.3" stroke="#000" stroke-width="1.0"/>
<text transform="translate(256.8,307.1) rotate(-45)" font-size="4.35" class="r" text-anchor="end">5.0000</text>
<text transform="translate(198.15,268.85) rotate(-90)" font-size="5.6" class="v" text-anchor="middle" textLength="20.2" lengthAdjust="spacingAndGlyphs">%&#160;colonies</text>
<text x="235.93" y="325" font-size="5.95" class="h" text-anchor="middle" textLength="28.0" lengthAdjust="spacingAndGlyphs">Olaparib (&#956;M)</text>
<line x1="223.35" y1="243.69" x2="223.35" y2="251.36" stroke="#222" stroke-width="0.7"/>
<line x1="222.05" y1="243.69" x2="224.65" y2="243.69" stroke="#222" stroke-width="0.7"/>
<line x1="222.05" y1="251.36" x2="224.65" y2="251.36" stroke="#222" stroke-width="0.7"/>
<line x1="227.8" y1="244.24" x2="227.8" y2="263.97" stroke="#222" stroke-width="0.7"/>
<line x1="226.5" y1="244.24" x2="229.1" y2="244.24" stroke="#222" stroke-width="0.7"/>
<line x1="226.5" y1="263.97" x2="229.1" y2="263.97" stroke="#222" stroke-width="0.7"/>
<line x1="236.7" y1="248.08" x2="236.7" y2="272.19" stroke="#222" stroke-width="0.7"/>
<line x1="235.4" y1="248.08" x2="238" y2="248.08" stroke="#222" stroke-width="0.7"/>
<line x1="235.4" y1="272.19" x2="238" y2="272.19" stroke="#222" stroke-width="0.7"/>
<line x1="254.5" y1="257.12" x2="254.5" y2="286.16" stroke="#222" stroke-width="0.7"/>
<line x1="253.2" y1="257.12" x2="255.8" y2="257.12" stroke="#222" stroke-width="0.7"/>
<line x1="253.2" y1="286.16" x2="255.8" y2="286.16" stroke="#222" stroke-width="0.7"/>
<line x1="223.35" y1="258.49" x2="223.35" y2="272.74" stroke="#222" stroke-width="0.7"/>
<line x1="222.05" y1="258.49" x2="224.65" y2="258.49" stroke="#222" stroke-width="0.7"/>
<line x1="222.05" y1="272.74" x2="224.65" y2="272.74" stroke="#222" stroke-width="0.7"/>
<polyline points="218.9,241.5 223.35,247.53 227.8,254.1 236.7,260.13 254.5,271.64" fill="none" stroke="#35548e" stroke-width="1.0"/>
<circle cx="218.9" cy="241.5" r="2.25" fill="#29498a" stroke="#111" stroke-width="0.7"/>
<circle cx="223.35" cy="247.53" r="2.25" fill="#29498a" stroke="#111" stroke-width="0.7"/>
<circle cx="227.8" cy="254.1" r="2.25" fill="#29498a" stroke="#111" stroke-width="0.7"/>
<circle cx="236.7" cy="260.13" r="2.25" fill="#29498a" stroke="#111" stroke-width="0.7"/>
<circle cx="254.5" cy="271.64" r="2.25" fill="#29498a" stroke="#111" stroke-width="0.7"/>
<polyline points="218.9,241.5 223.35,265.61 227.8,277.94 236.7,286.98 254.5,294.93" fill="none" stroke="#b41e40" stroke-width="1.0"/>
<circle cx="218.9" cy="241.5" r="2.25" fill="#bd0a30" stroke="#111" stroke-width="0.7"/>
<circle cx="223.35" cy="265.61" r="2.25" fill="#bd0a30" stroke="#111" stroke-width="0.7"/>
<circle cx="227.8" cy="277.94" r="2.25" fill="#bd0a30" stroke="#111" stroke-width="0.7"/>
<circle cx="236.7" cy="286.98" r="2.25" fill="#bd0a30" stroke="#111" stroke-width="0.7"/>
<circle cx="254.5" cy="294.93" r="2.25" fill="#bd0a30" stroke="#111" stroke-width="0.7"/>
<line x1="286.45" y1="239.2" x2="286.45" y2="300.1" stroke="#000" stroke-width="1"/>
<line x1="283.45" y1="296.8" x2="286.45" y2="296.8" stroke="#000" stroke-width="0.9"/>
<text x="280.65" y="298.4" font-size="4.55" class="t" text-anchor="end">0</text>
<line x1="283.45" y1="285.82" x2="286.45" y2="285.82" stroke="#000" stroke-width="0.9"/>
<text x="280.65" y="287.42" font-size="4.55" class="t" text-anchor="end">20</text>
<line x1="283.45" y1="274.84" x2="286.45" y2="274.84" stroke="#000" stroke-width="0.9"/>
<text x="280.65" y="276.44" font-size="4.55" class="t" text-anchor="end">40</text>
<line x1="283.45" y1="263.86" x2="286.45" y2="263.86" stroke="#000" stroke-width="0.9"/>
<text x="280.65" y="265.46" font-size="4.55" class="t" text-anchor="end">60</text>
<line x1="283.45" y1="252.88" x2="286.45" y2="252.88" stroke="#000" stroke-width="0.9"/>
<text x="280.65" y="254.48" font-size="4.55" class="t" text-anchor="end">80</text>
<line x1="283.45" y1="241.9" x2="286.45" y2="241.9" stroke="#000" stroke-width="0.9"/>
<text x="280.65" y="243.5" font-size="4.55" class="t" text-anchor="end">100</text>
<line x1="286.05" y1="299.7" x2="328.15" y2="299.7" stroke="#000" stroke-width="1"/>
<line x1="289.65" y1="299.7" x2="289.65" y2="302.8" stroke="#000" stroke-width="1.0"/>
<text transform="translate(291.35,307) rotate(-45)" font-size="4.35" class="r" text-anchor="end">0.00</text>
<line x1="294.15" y1="299.7" x2="294.15" y2="302.8" stroke="#000" stroke-width="1.0"/>
<text transform="translate(295.85,307) rotate(-45)" font-size="4.35" class="r" text-anchor="end">1.25</text>
<line x1="298.65" y1="299.7" x2="298.65" y2="302.8" stroke="#000" stroke-width="1.0"/>
<text transform="translate(300.35,307) rotate(-45)" font-size="4.35" class="r" text-anchor="end">2.50</text>
<line x1="307.65" y1="299.7" x2="307.65" y2="302.8" stroke="#000" stroke-width="1.0"/>
<text transform="translate(309.35,307) rotate(-45)" font-size="4.35" class="r" text-anchor="end">5.00</text>
<line x1="325.65" y1="299.7" x2="325.65" y2="302.8" stroke="#000" stroke-width="1.0"/>
<text transform="translate(327.35,307) rotate(-45)" font-size="4.35" class="r" text-anchor="end">10.00</text>
<text transform="translate(269.25,269.3) rotate(-90)" font-size="5.6" class="v" text-anchor="middle" textLength="20.2" lengthAdjust="spacingAndGlyphs">%&#160;colonies</text>
<text x="307.05" y="321.3" font-size="6.05" class="h" text-anchor="middle" textLength="34.0" lengthAdjust="spacingAndGlyphs">Doxorubicin (nM)</text>
<line x1="294.15" y1="243" x2="294.15" y2="264.96" stroke="#222" stroke-width="0.7"/>
<line x1="292.85" y1="243" x2="295.45" y2="243" stroke="#222" stroke-width="0.7"/>
<line x1="292.85" y1="264.96" x2="295.45" y2="264.96" stroke="#222" stroke-width="0.7"/>
<line x1="298.65" y1="253.43" x2="298.65" y2="275.39" stroke="#222" stroke-width="0.7"/>
<line x1="297.35" y1="253.43" x2="299.95" y2="253.43" stroke="#222" stroke-width="0.7"/>
<line x1="297.35" y1="275.39" x2="299.95" y2="275.39" stroke="#222" stroke-width="0.7"/>
<line x1="307.65" y1="267.7" x2="307.65" y2="280.88" stroke="#222" stroke-width="0.7"/>
<line x1="306.35" y1="267.7" x2="308.95" y2="267.7" stroke="#222" stroke-width="0.7"/>
<line x1="306.35" y1="280.88" x2="308.95" y2="280.88" stroke="#222" stroke-width="0.7"/>
<line x1="325.65" y1="281.15" x2="325.65" y2="291.04" stroke="#222" stroke-width="0.7"/>
<line x1="324.35" y1="281.15" x2="326.95" y2="281.15" stroke="#222" stroke-width="0.7"/>
<line x1="324.35" y1="291.04" x2="326.95" y2="291.04" stroke="#222" stroke-width="0.7"/>
<line x1="294.15" y1="244.1" x2="294.15" y2="260.57" stroke="#222" stroke-width="0.7"/>
<line x1="292.85" y1="244.1" x2="295.45" y2="244.1" stroke="#222" stroke-width="0.7"/>
<line x1="292.85" y1="260.57" x2="295.45" y2="260.57" stroke="#222" stroke-width="0.7"/>
<line x1="298.65" y1="258.92" x2="298.65" y2="267.7" stroke="#222" stroke-width="0.7"/>
<line x1="297.35" y1="258.92" x2="299.95" y2="258.92" stroke="#222" stroke-width="0.7"/>
<line x1="297.35" y1="267.7" x2="299.95" y2="267.7" stroke="#222" stroke-width="0.7"/>
<line x1="307.65" y1="267.7" x2="307.65" y2="280.88" stroke="#222" stroke-width="0.7"/>
<line x1="306.35" y1="267.7" x2="308.95" y2="267.7" stroke="#222" stroke-width="0.7"/>
<line x1="306.35" y1="280.88" x2="308.95" y2="280.88" stroke="#222" stroke-width="0.7"/>
<line x1="325.65" y1="276.38" x2="325.65" y2="288.46" stroke="#222" stroke-width="0.7"/>
<line x1="324.35" y1="276.38" x2="326.95" y2="276.38" stroke="#222" stroke-width="0.7"/>
<line x1="324.35" y1="288.46" x2="326.95" y2="288.46" stroke="#222" stroke-width="0.7"/>
<polyline points="289.65,241.9 294.15,253.98 298.65,264.41 307.65,274.29 325.65,286.09" fill="none" stroke="#35548e" stroke-width="1.0"/>
<circle cx="289.65" cy="241.9" r="2.25" fill="#29498a" stroke="#111" stroke-width="0.7"/>
<circle cx="294.15" cy="253.98" r="2.25" fill="#29498a" stroke="#111" stroke-width="0.7"/>
<circle cx="298.65" cy="264.41" r="2.25" fill="#29498a" stroke="#111" stroke-width="0.7"/>
<circle cx="307.65" cy="274.29" r="2.25" fill="#29498a" stroke="#111" stroke-width="0.7"/>
<circle cx="325.65" cy="286.09" r="2.25" fill="#29498a" stroke="#111" stroke-width="0.7"/>
<polyline points="289.65,241.9 294.15,252.33 298.65,263.31 307.65,274.29 325.65,282.42" fill="none" stroke="#b41e40" stroke-width="1.0"/>
<circle cx="289.65" cy="241.9" r="2.25" fill="#bd0a30" stroke="#111" stroke-width="0.7"/>
<circle cx="294.15" cy="252.33" r="2.25" fill="#bd0a30" stroke="#111" stroke-width="0.7"/>
<circle cx="298.65" cy="263.31" r="2.25" fill="#bd0a30" stroke="#111" stroke-width="0.7"/>
<circle cx="307.65" cy="274.29" r="2.25" fill="#bd0a30" stroke="#111" stroke-width="0.7"/>
<circle cx="325.65" cy="282.42" r="2.25" fill="#bd0a30" stroke="#111" stroke-width="0.7"/>
<line x1="249.8" y1="232.2" x2="257.9" y2="232.2" stroke="#35548e" stroke-width="0.9"/>
<circle cx="253.7" cy="232.2" r="2.25" fill="#29498a" stroke="#111" stroke-width="0.7"/>
<text x="260.9" y="233.9" font-size="5.2" fill="#333" textLength="7.9" lengthAdjust="spacingAndGlyphs">AEK</text>
<line x1="277.6" y1="232.2" x2="285.9" y2="232.2" stroke="#b41e40" stroke-width="0.9"/>
<circle cx="281.8" cy="232.2" r="2.25" fill="#bd0a30" stroke="#111" stroke-width="0.7"/>
<text x="288.8" y="233.9" font-size="5.2" fill="#333" textLength="5.0" lengthAdjust="spacingAndGlyphs">AE</text>
<text x="7.0" y="16.4" font-size="11.5" font-weight="bold" fill="#000" stroke="#000" stroke-width="0.45">A</text>
<text x="192.0" y="229.7" font-size="11.5" font-weight="bold" fill="#000" stroke="#000" stroke-width="0.45">B</text>
</svg>
</body></html>
